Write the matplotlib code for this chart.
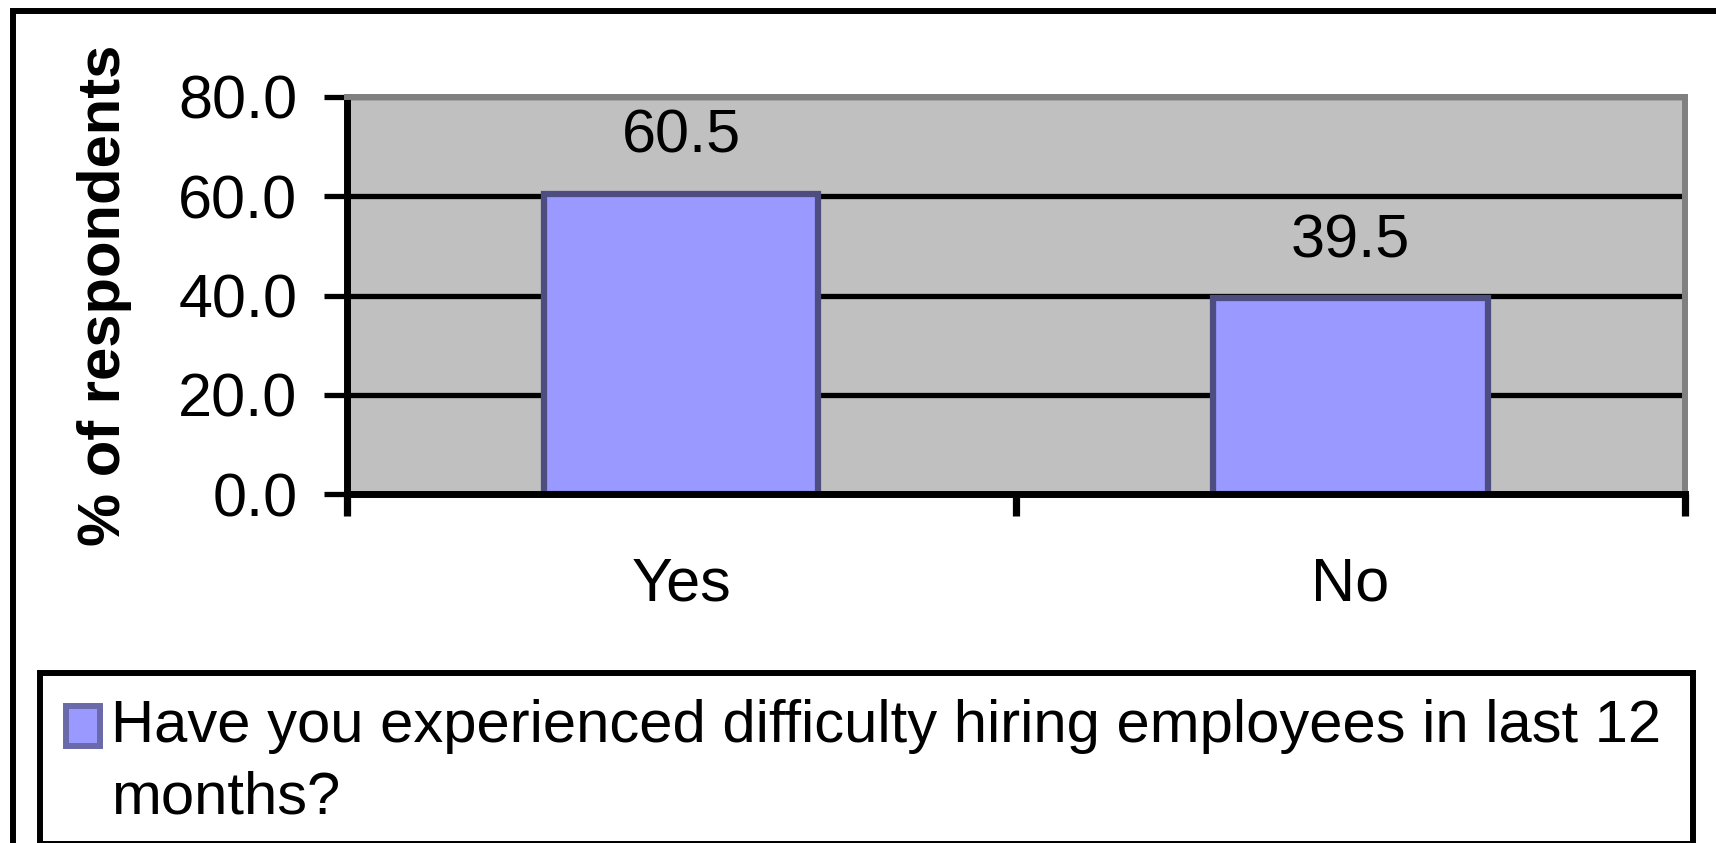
import matplotlib
matplotlib.use('Agg')
import matplotlib.pyplot as plt
from matplotlib.patches import Rectangle

# chart values
categories = ['Yes', 'No']
values = [60.5, 39.5]
y_ticks = [0, 20, 40, 60, 80]
y_label = '% of respondents'
legend_lines = ['Have you experienced difficulty hiring employees in last 12',
                'months?']

bar_color = '#9999FF'
bar_edge = '#4d4d80'
marker_edge = '#6a6aaa'
plot_bg = '#C0C0C0'
frame_gray = '#808080'

plt.rcParams['font.family'] = ['Liberation Sans', 'DejaVu Sans']

W, H = 1716, 843
fig = plt.figure(figsize=(W / 100, H / 100), dpi=100)
ax = fig.add_axes([346.7 / W, 1 - 494.3 / H, 1338.3 / W, 397.6 / H])
ax.set_facecolor(plot_bg)

x = list(range(len(categories)))
bars = ax.bar(x, values, width=0.41, color=bar_color, edgecolor=bar_edge,
              linewidth=4.5, zorder=2)
ax.bar_label(bars, fmt='%.1f', padding=20, fontsize=44)

ax.set_xlim(-0.5, len(categories) - 0.5)
ax.set_ylim(y_ticks[0], y_ticks[-1])
ax.set_yticks(y_ticks)
ax.set_yticklabels(['%.1f' % t for t in y_ticks])
ax.set_xticks(x)
ax.set_xticklabels(categories)
ax.set_xticks([i - 0.5 for i in range(len(categories) + 1)], minor=True)

ax.tick_params(axis='y', length=16.5, width=3.8, pad=19, labelsize=44)
ax.tick_params(axis='x', which='major', length=0, pad=45, labelsize=44)
ax.tick_params(axis='x', which='minor', length=16, width=5.2)

ax.grid(axis='y', color='black', linewidth=3.8)
ax.set_axisbelow(True)

for side in ['left', 'bottom']:
    ax.spines[side].set_color('black')
    ax.spines[side].set_linewidth(5)
for side in ['top', 'right']:
    ax.spines[side].set_color(frame_gray)
    ax.spines[side].set_linewidth(4.3)

ax.set_ylabel(y_label, fontsize=43, fontweight='bold', labelpad=33)

# outer chart frame (right and bottom edges fall outside the picture)
frame_top = 1 - 11 / H
fig.patches.append(Rectangle((13 / W, -0.2), 1.2, frame_top + 0.2,
                             transform=fig.transFigure, fill=False,
                             edgecolor='black', linewidth=4.3))

# legend box
fig.patches.append(Rectangle((39.5 / W, -1 / H), (1693 - 39.5) / W, (844 - 673) / H,
                             transform=fig.transFigure, fill=False,
                             edgecolor='black', linewidth=4.3))
fig.patches.append(Rectangle((66 / W, 97 / H), 34 / W, 40 / H,
                             transform=fig.transFigure, facecolor=bar_color,
                             edgecolor=marker_edge, linewidth=4.3))
fig.text(111 / W, 1 - 742 / H, legend_lines[0], fontsize=43, va='baseline')
fig.text(111 / W, 1 - 814 / H, legend_lines[1], fontsize=43, va='baseline')

fig.savefig('out.png', dpi=100)
